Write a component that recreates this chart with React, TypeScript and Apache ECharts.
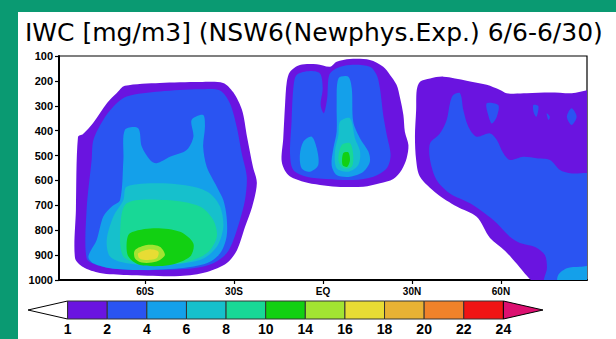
import React, { useEffect, useRef } from 'react';
import * as echarts from 'echarts';

const titleText = 'IWC [mg/m3] (NSW6(Newphys.Exp.) 6/6-6/30)';

const levels = [1, 2, 4, 6, 8, 10, 14, 16, 18, 20, 22, 24];
const levelColors = ['#6a14e0', '#2a54f2', '#14a0ea', '#16c0cc', '#18d896', '#12d012', '#a2e432', '#e8dc34', '#e8b234', '#f0822a', '#f01414'];
const overColor = '#dc1070';
const underColor = '#ffffff';

const latTicks = [-60, -30, 0, 30, 60];
const latLabels = ['60S', '30S', 'EQ', '30N', '60N'];
const latRange = [-89, 89];
const pressureRange = [100, 1000];

// Contour outlines: [latitude (deg, S<0), pressure (hPa)]
const leftBlob1 = [[-66.8, 220], [-55, 208], [-41.5, 204], [-33.7, 208], [-30.3, 245], [-27.3, 317], [-25.6, 425], [-23.6, 546], [-22.3, 610], [-23.9, 707], [-26.3, 787], [-29, 880], [-32.4, 932], [-39.1, 968], [-48.2, 984], [-66.1, 980], [-75.2, 972], [-80.9, 948], [-83.6, 912], [-83.3, 719], [-82.6, 425], [-80.9, 413], [-77.5, 369], [-72.8, 289], [-69.5, 249]];
const leftBlob2 = [[-77.4, 437], [-74.1, 357], [-70.7, 304], [-66.2, 263], [-55, 243], [-41.5, 234], [-34.7, 239], [-31.4, 290], [-29.1, 384], [-27.4, 491], [-25.7, 585], [-26.3, 679], [-28, 759], [-30.2, 839], [-32.5, 893], [-37, 933], [-43.7, 953], [-55, 960], [-68.4, 957], [-76.3, 940], [-79.7, 913], [-79.7, 719], [-78, 518]];
const leftBlob4 = [[-66.8, 397], [-62.3, 390], [-61.1, 464], [-58.3, 518], [-56.1, 531], [-51.6, 505], [-46, 478], [-43.7, 424], [-44.3, 357], [-40.4, 337], [-39.8, 384], [-40.4, 464], [-39.2, 545], [-35.8, 625], [-33.6, 679], [-32.5, 746], [-32.5, 826], [-34.7, 893], [-39.2, 933], [-48.2, 953], [-61.7, 960], [-71.8, 953], [-77.4, 933], [-79.1, 906], [-76.3, 839], [-74.1, 746], [-71.2, 705], [-68.4, 679], [-67.3, 518]];
const leftBlob6 = [[-66.2, 625], [-55, 611], [-43.7, 625], [-38.1, 652], [-34.7, 705], [-33.6, 786], [-35.8, 866], [-41.5, 920], [-55, 940], [-66.2, 933], [-71.8, 906], [-72.9, 839], [-70.7, 746], [-67.3, 679]];
const leftBlob8 = [[-66.2, 692], [-52.7, 679], [-41.5, 705], [-37, 759], [-35.8, 826], [-39.2, 893], [-48.2, 933], [-61.7, 933], [-67.3, 906], [-68.4, 812]];
const leftBlob10 = [[-65.1, 812], [-57.2, 792], [-48.2, 806], [-43.7, 853], [-44.8, 906], [-51.6, 940], [-61.7, 940], [-65.6, 906], [-66.2, 853]];
const leftBlob14 = [[-63.4, 880], [-59.4, 859], [-55, 866], [-53.3, 900], [-56.1, 926], [-61.1, 930], [-63.4, 913]];
const leftBlob16 = [[-62.3, 893], [-58.9, 877], [-55.5, 886], [-56.1, 913], [-60, 920], [-61.9, 913]];

const midBlob1 = [[-12.2, 203], [-11.1, 163], [-7.8, 136], [-2.1, 133], [2.4, 143], [4.6, 123], [9.1, 112], [15.8, 116], [20.3, 143], [22.6, 176], [24.8, 216], [26, 270], [27.1, 337], [27.6, 404], [28.8, 458], [28.2, 511], [26.5, 558], [23.7, 594], [19.2, 611], [13.6, 625], [4.6, 625], [-1, 618], [-6.6, 605], [-11.7, 578], [-13.9, 525], [-13.4, 431], [-12.8, 297]];
const midBlob2 = [[-10, 230], [-8.9, 176], [-4.4, 160], [-1, 170], [-0.1, 230], [-0.8, 297], [0.3, 330], [1.4, 270], [2.1, 176], [4.6, 149], [9.1, 136], [15.8, 143], [18.1, 176], [19.2, 230], [20.3, 337], [21.5, 417], [22.8, 498], [21.5, 551], [17, 585], [10.2, 598], [1.2, 594], [-5.5, 585], [-10, 558], [-11.1, 498], [-10.6, 364]];
const midBlob4a = [[-6.6, 444], [-3.8, 424], [-2.1, 471], [-1.6, 538], [-4.4, 565], [-7.2, 551], [-7.8, 498]];
const midBlob4b = [[5.2, 190], [8.5, 183], [9.7, 230], [10.2, 364], [12.5, 431], [15.3, 484], [15.8, 525], [13.6, 565], [9.1, 585], [4.6, 578], [2.9, 538], [3.5, 471], [4.6, 404], [4.6, 297]];
const midBlob6 = [[5.7, 364], [9.1, 350], [10.8, 431], [12.5, 484], [11.9, 538], [8.5, 565], [4.6, 551], [4, 484], [5.2, 417]];
const midBlob8 = [[6.3, 458], [9.1, 451], [10.2, 498], [9.7, 545], [6.8, 551], [5.2, 518]];
const midBlob10 = [[6.8, 491], [8.5, 487], [9.1, 518], [8.2, 545], [6.6, 538]];

const rightBlob1 = [[31.6, 237], [32.7, 203], [36.1, 190], [40.6, 183], [48.4, 199], [55.2, 216], [59.7, 237], [61.9, 250], [68.7, 250], [76.5, 247], [83.3, 250], [92, 247], [92, 1010], [71.5, 1010], [68.8, 984], [65.4, 936], [61.4, 883], [56.3, 831], [51.8, 746], [45.1, 705], [38.3, 652], [32.7, 585], [31.4, 518], [31, 424], [31.4, 317]];
const rightBlob2 = [[42.8, 290], [43.9, 257], [46.2, 250], [47.3, 317], [49, 384], [51.8, 424], [56.3, 411], [58.6, 437], [60.8, 491], [63, 518], [67.5, 505], [72, 511], [76.5, 518], [79.9, 558], [83.3, 571], [92, 585], [92, 1010], [74.8, 1010], [75.5, 952], [74.8, 900], [71.5, 867], [66.4, 851], [63, 826], [57.4, 759], [49.6, 692], [42.8, 652], [38.3, 598], [36.1, 518], [36.1, 451], [39.4, 411], [41.7, 357]];
const rightSpotA = [[55.2, 290], [59.1, 297], [58.6, 344], [56.9, 371], [55.7, 337]];
const rightSpotB = [[70.9, 297], [72.6, 301], [72, 344], [71.1, 330]];
const rightSpotC = [[82.2, 344], [83.8, 310], [85.5, 344], [83.8, 377]];
const rightSpotD = [[75.4, 330], [76.5, 344], [76, 357]];
const rightBlob4 = [[79.3, 980], [82.2, 953], [86.6, 947], [92, 947], [92, 1010], [79.3, 1010]];

// level index refers to levels[] lower bound -> levelColors[index]
const contours = [
  { level: 0, pts: leftBlob1 }, { level: 0, pts: midBlob1 }, { level: 0, pts: rightBlob1 },
  { level: 1, pts: leftBlob2 }, { level: 1, pts: midBlob2 }, { level: 1, pts: rightBlob2 },
  { level: 1, pts: rightSpotA }, { level: 1, pts: rightSpotB }, { level: 1, pts: rightSpotC }, { level: 1, pts: rightSpotD },
  { level: 2, pts: leftBlob4 }, { level: 2, pts: midBlob4a }, { level: 2, pts: midBlob4b }, { level: 2, pts: rightBlob4 },
  { level: 3, pts: leftBlob6 }, { level: 3, pts: midBlob6 },
  { level: 4, pts: leftBlob8 }, { level: 4, pts: midBlob8 },
  { level: 5, pts: leftBlob10 }, { level: 5, pts: midBlob10 },
  { level: 6, pts: leftBlob14 },
  { level: 7, pts: leftBlob16 },
];

export default function App() {
  const ref = useRef<HTMLDivElement>(null);
  useEffect(() => {
    if (!ref.current) return;
    const chart = echarts.init(ref.current, null, { renderer: 'svg' });
    const nBox = levelColors.length;
    const barData: number[][] = [[-1, 0]];
    for (let i = 0; i < nBox; i++) barData.push([i, 0]);
    barData.push([nBox, 0]);

    chart.setOption({
      animation: false,
      backgroundColor: '#0a9a72',
      title: {
        text: titleText,
        left: 25,
        top: 20,
        padding: 0,
        textStyle: { fontFamily: 'DejaVu Sans', fontSize: 25, fontWeight: 'normal', color: '#000' },
      },
      graphic: [
        { type: 'rect', z: -10, silent: true, shape: { x: 18, y: 12, width: 598, height: 327 }, style: { fill: '#ffffff' } },
      ],
      grid: [
        { left: 59, top: 56, width: 528, height: 224, show: true, borderColor: '#000', borderWidth: 1.2, backgroundColor: 'transparent' },
        { left: 28, top: 301, width: 515, height: 18, show: false },
      ],
      xAxis: [
        {
          type: 'value', gridIndex: 0, min: latRange[0], max: latRange[1],
          axisLine: { show: true, onZero: false, lineStyle: { color: '#000', width: 2 } },
          axisTick: { show: true, customValues: latTicks, length: 4, lineStyle: { color: '#000', width: 1.2 } },
          axisLabel: {
            customValues: latTicks, margin: 6,
            formatter: (v: number) => latLabels[latTicks.indexOf(v)] ?? '',
            fontFamily: 'Liberation Sans', fontWeight: 'bold', fontSize: 10, color: '#000',
          },
          splitLine: { show: false },
        },
        {
          type: 'value', gridIndex: 1, min: -1, max: nBox + 1, interval: 1,
          axisLine: { show: false }, axisTick: { show: false }, splitLine: { show: false },
          axisLabel: {
            margin: 3, showMinLabel: true, showMaxLabel: true,
            formatter: (v: number) => (v >= 0 && v <= nBox ? String(levels[v]) : ''),
            fontFamily: 'Liberation Sans', fontWeight: 'bold', fontSize: 14, color: '#000',
          },
        },
      ],
      yAxis: [
        {
          type: 'value', gridIndex: 0, inverse: true, min: pressureRange[0], max: pressureRange[1], interval: 100,
          axisLine: { show: true, onZero: false, lineStyle: { color: '#000', width: 2 } },
          axisTick: { show: true, length: 4, lineStyle: { color: '#000', width: 1.2 } },
          axisLabel: {
            margin: 6, formatter: (v: number) => String(v),
            fontFamily: 'Liberation Sans', fontWeight: 'bold', fontSize: 11, color: '#000',
          },
          splitLine: { show: false },
        },
        { type: 'value', gridIndex: 1, min: 0, max: 1, show: false },
      ],
      series: [
        {
          type: 'custom', xAxisIndex: 0, yAxisIndex: 0, clip: true, silent: true,
          data: contours.map((c, i) => [c.pts[0][0], c.pts[0][1], i]),
          renderItem: (params: any, api: any) => {
            const c = contours[params.dataIndex];
            const pts = c.pts.map((p) => api.coord(p));
            return {
              type: 'polygon',
              shape: { points: pts, smooth: 0.3 },
              style: { fill: levelColors[c.level] },
            };
          },
        },
        {
          type: 'custom', xAxisIndex: 1, yAxisIndex: 1, silent: true, clip: false,
          data: barData,
          renderItem: (params: any, api: any) => {
            const i = api.value(0);
            if (i < 0) {
              const a = api.coord([-1, 0.5]);
              const b = api.coord([0, 1]);
              const c = api.coord([0, 0]);
              return { type: 'polygon', shape: { points: [a, b, c] }, style: { fill: underColor, stroke: '#000', lineWidth: 1 } };
            }
            if (i >= nBox) {
              const a = api.coord([nBox, 1]);
              const b = api.coord([nBox + 1, 0.5]);
              const c = api.coord([nBox, 0]);
              return { type: 'polygon', shape: { points: [a, b, c] }, style: { fill: overColor, stroke: '#000', lineWidth: 1 } };
            }
            const p0 = api.coord([i, 1]);
            const p1 = api.coord([i + 1, 0]);
            return {
              type: 'rect',
              shape: { x: p0[0], y: p0[1], width: p1[0] - p0[0], height: p1[1] - p0[1] },
              style: { fill: levelColors[i], stroke: '#333', lineWidth: 1 },
            };
          },
        },
      ],
    });
    return () => chart.dispose();
  }, []);
  return <div ref={ref} style={{ position: 'fixed', left: 0, top: 0, width: 616, height: 339 }} />;
}
